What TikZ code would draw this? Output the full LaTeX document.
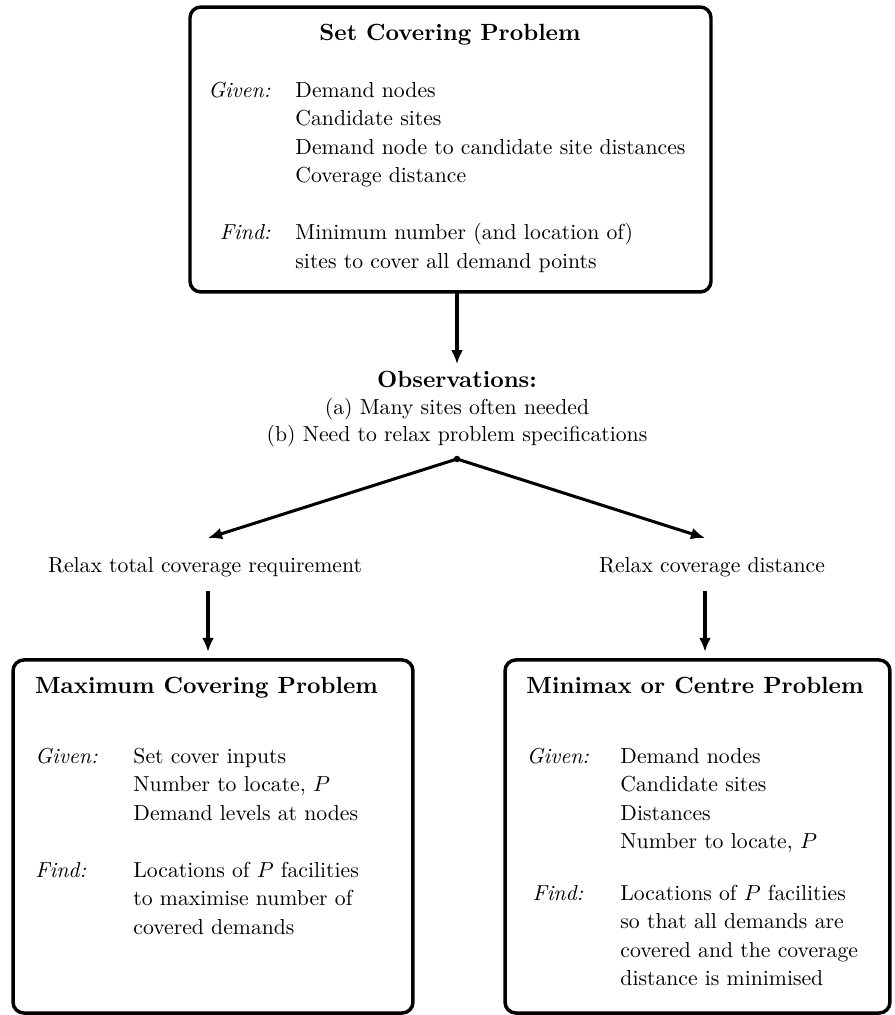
\documentclass[tikz,border=0pt]{standalone}
\usetikzlibrary{arrows.meta}
\begin{document}
\begin{tikzpicture}[x=0.46083pt,y=-0.46083pt,
  probbox/.style={draw,line width=1.6pt,rounded corners=5pt,inner sep=0pt,outer sep=0pt},
  title/.style={font=\fontsize{10.8}{13}\selectfont\bfseries,anchor=base,inner sep=0pt},
  tag/.style={font=\itshape,inner sep=0pt},
  entry/.style={anchor=base west,inner sep=0pt},
  plain/.style={anchor=base,inner sep=0pt},
  flow/.style={line width=1.4pt,-{Latex[length=6.5pt,width=5.5pt]}},
]
\useasboundingbox (0,0) rectangle (895,1015);

% ---- set covering problem ----
\node[probbox,minimum width=240.1pt,minimum height=131.3pt] (scp) at (450.5,149.5) {};
\node[title] (scpt) at (450,40) {Set Covering Problem};
\node[tag,anchor=base east] (scpg) at (271,97) {Given:};
\foreach \t [count=\i from 0] in {Demand nodes,Candidate sites,Demand node to candidate site distances,Coverage distance}
  \node[entry] (scpg\i) at (295,{97+28.5*\i}) {\t};
\node[tag,anchor=base east] (scpf) at (271,239.5) {Find:};
\foreach \t [count=\i from 0] in {Minimum number (and location of),sites to cover all demand points}
  \node[entry] (scpf\i) at (295,{239.5+28.5*\i}) {\t};

% ---- observations ----
\node[title] (obs) at (457,387) {Observations:};
\node[plain] (obsa) at (457,414) {(a) Many sites often needed};
\node[plain] (obsb) at (457,441) {(b) Need to relax problem specifications};
\coordinate (split) at (457,459);
\coordinate (tip1) at (208,538);
\coordinate (tip2) at (705,538);

\draw[flow,shorten >=2.8pt] (obs.north |- scp.south) -- (obs.north);
\draw[flow] (split) -- (tip1);
\draw[flow] (split) -- (tip2);
\fill (split) circle (1.5pt);

% ---- relaxations ----
\node[plain] (rlx1) at (205,572) {Relax total coverage requirement};
\node[plain] (rlx2) at (712,572) {Relax coverage distance};

% ---- maximum covering problem ----
\node[probbox,minimum width=184.3pt,minimum height=162.7pt] (mcp) at (213,836.5) {};
\node[title] (mcpt) at (206.5,693) {Maximum Covering Problem};
\node[tag,anchor=base west] (mcpg) at (35,763) {Given:};
\foreach \t [count=\i from 0] in {Set cover inputs,{Number to locate, $P$},Demand levels at nodes}
  \node[entry] (mcpg\i) at (133,{763+28.5*\i}) {\t};
\node[tag,anchor=base west] (mcpf) at (35,877) {Find:};
\foreach \t [count=\i from 0] in {Locations of $P$ facilities,to maximise number of,covered demands}
  \node[entry] (mcpf\i) at (133,{877+28.5*\i}) {\t};

% ---- minimax or centre problem ----
\node[probbox,minimum width=177.4pt,minimum height=162.7pt] (mnx) at (697.5,836.5) {};
\node[title] (mnxt) at (695,693) {Minimax or Centre Problem};
\node[tag,anchor=base] (mnxg) at (558,763) {Given:};
\foreach \t [count=\i from 0] in {Demand nodes,Candidate sites,Distances,{Number to locate, $P$}}
  \node[entry] (mnxg\i) at (620,{763+28.5*\i}) {\t};
\node[tag,anchor=base] (mnxf) at (558,900) {Find:};
\foreach \t [count=\i from 0] in {Locations of $P$ facilities,so that all demands are,covered and the coverage,distance is minimised}
  \node[entry] (mnxf\i) at (620,{900+28.5*\i}) {\t};

\draw[flow,shorten <=6.4pt,shorten >=3.7pt] (tip1 |- rlx1.south) -- (tip1 |- mcp.north);
\draw[flow,shorten <=6.4pt,shorten >=3.7pt] (tip2 |- rlx2.south) -- (tip2 |- mnx.north);
\end{tikzpicture}
\end{document}
